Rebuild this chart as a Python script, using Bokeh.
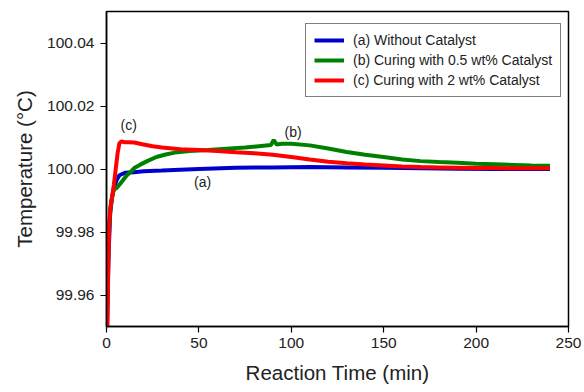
from bokeh.plotting import figure
from bokeh.models import FixedTicker, PrintfTickFormatter, Legend, LegendItem, Range1d
from bokeh.core.properties import value
from bokeh.embed import file_html
from bokeh.resources import INLINE

# (a) Without Catalyst
t_a = [0.3, 0.8, 1.2, 2, 3, 4, 5.5, 7, 10, 15, 20, 30, 50, 70, 90, 110, 130, 150, 170, 190, 210, 240]
T_a = [99.950, 99.965, 99.974, 99.986, 99.991, 99.994, 99.9965, 99.998, 99.9988, 99.9990, 99.9993,
       99.9995, 100.0000, 100.0004, 100.0005, 100.0006, 100.0005, 100.0004, 100.0002, 100.0001,
       100.0000, 100.0000]

# (b) Curing with 0.5 wt% Catalyst
t_b = [0.2, 0.8, 1.5, 2.2, 3, 4, 5.5, 7, 9, 11, 13, 15, 18, 22, 27, 32, 37, 45, 55, 65, 75, 85,
       89, 90.5, 92, 95, 100, 110, 120, 130, 140, 150, 160, 170, 180, 190, 200, 210, 220, 230, 240]
T_b = [99.950, 99.970, 99.982, 99.988, 99.991, 99.9935, 99.994, 99.995, 99.9965, 99.998, 99.999,
       100.0003, 100.0013, 100.0025, 100.0038, 100.0046, 100.0052, 100.0057, 100.0060, 100.0064,
       100.0068, 100.0074, 100.0076, 100.0092, 100.0078, 100.0080, 100.0080, 100.0075, 100.0065,
       100.0054, 100.0045, 100.0038, 100.0030, 100.0025, 100.0022, 100.0020, 100.0017, 100.0015,
       100.0013, 100.0011, 100.0010]

# (c) Curing with 2 wt% Catalyst
t_c = [0.5, 1.0, 1.5, 2.2, 3, 4, 5, 6, 7, 8, 10, 12, 15, 20, 25, 30, 40, 50, 60, 70, 80, 90, 100,
       110, 120, 130, 140, 150, 160, 170, 180, 190, 200, 210, 220, 240]
T_c = [99.950, 99.970, 99.983, 99.988, 99.991, 99.995, 100.000, 100.005, 100.0082, 100.0087,
       100.0085, 100.0085, 100.0084, 100.0078, 100.0072, 100.0068, 100.0063, 100.0060, 100.0057,
       100.0053, 100.0050, 100.0045, 100.0038, 100.0030, 100.0023, 100.0018, 100.0014, 100.0011,
       100.0008, 100.0006, 100.0005, 100.0004, 100.0003, 100.0003, 100.0002, 100.0002]

series_names = ["(a) Without Catalyst", "(b) Curing with 0.5 wt% Catalyst", "(c) Curing with 2 wt% Catalyst"]
x_ticks = [0, 50, 100, 150, 200, 250]
y_ticks = [99.96, 99.98, 100.00, 100.02, 100.04]

ann_text = ["(a)", "(b)", "(c)"]
ann_x = [52, 101, 12]
ann_y = [99.9959, 100.0117, 100.0140]

FONT = "Liberation Sans"

p = figure(width=584, height=392, output_backend="svg", toolbar_location=None,
           x_range=Range1d(0, 250), y_range=Range1d(99.95, 100.05),
           min_border_left=106, min_border_right=16, min_border_top=11, min_border_bottom=66)
p.xgrid.visible = False
p.ygrid.visible = False
p.outline_line_color = "black"
p.outline_line_width = 1.5
p.background_fill_color = "white"
p.border_fill_color = "white"

ra = p.line(t_a, T_a, line_color="#0000cc", line_width=4)
rb = p.line(t_b, T_b, line_color="#008000", line_width=4)
rc = p.line(t_c, T_c, line_color="#ff0000", line_width=4)

p.text(x=ann_x, y=ann_y, text=ann_text, text_font=value(FONT), text_font_size="14px",
       text_align="center", text_baseline="middle", text_color="#222222")

for ax in (p.xaxis[0], p.yaxis[0]):
    ax.axis_line_color = "black"
    ax.axis_line_width = 1.5
    ax.major_tick_line_color = "black"
    ax.major_tick_line_width = 1.2
    ax.major_tick_out = 6
    ax.major_tick_in = 0
    ax.minor_tick_line_color = None
    ax.major_label_text_font = FONT
    ax.major_label_text_font_size = "15.5px"
    ax.major_label_text_color = "#222222"
    ax.axis_label_text_font = FONT
    ax.axis_label_text_font_style = "normal"
    ax.axis_label_text_font_size = "20.5px"
    ax.axis_label_text_color = "#222222"

p.xaxis.ticker = FixedTicker(ticks=x_ticks)
p.yaxis.ticker = FixedTicker(ticks=y_ticks)
p.yaxis.formatter = PrintfTickFormatter(format="%.2f")
p.xaxis.axis_label = "Reaction Time (min)"
p.yaxis.axis_label = "Temperature (°C)"
p.xaxis.major_label_standoff = 5
p.yaxis.major_label_standoff = 6
p.xaxis.axis_label_standoff = 10
p.yaxis.axis_label_standoff = 8

legend = Legend(items=[LegendItem(label=series_names[0], renderers=[ra]),
                       LegendItem(label=series_names[1], renderers=[rb]),
                       LegendItem(label=series_names[2], renderers=[rc])],
                location=(199, 229))
legend.margin = 0
legend.padding = 8
legend.spacing = 4
legend.glyph_width = 30
legend.glyph_height = 16
legend.label_height = 16
legend.label_standoff = 9
legend.label_text_font = FONT
legend.label_text_font_size = "14px"
legend.label_text_color = "#222222"
legend.border_line_color = "black"
legend.border_line_width = 1
legend.background_fill_alpha = 1
p.add_layout(legend, "center")

open("out.html", "w").write(file_html(p, INLINE))
